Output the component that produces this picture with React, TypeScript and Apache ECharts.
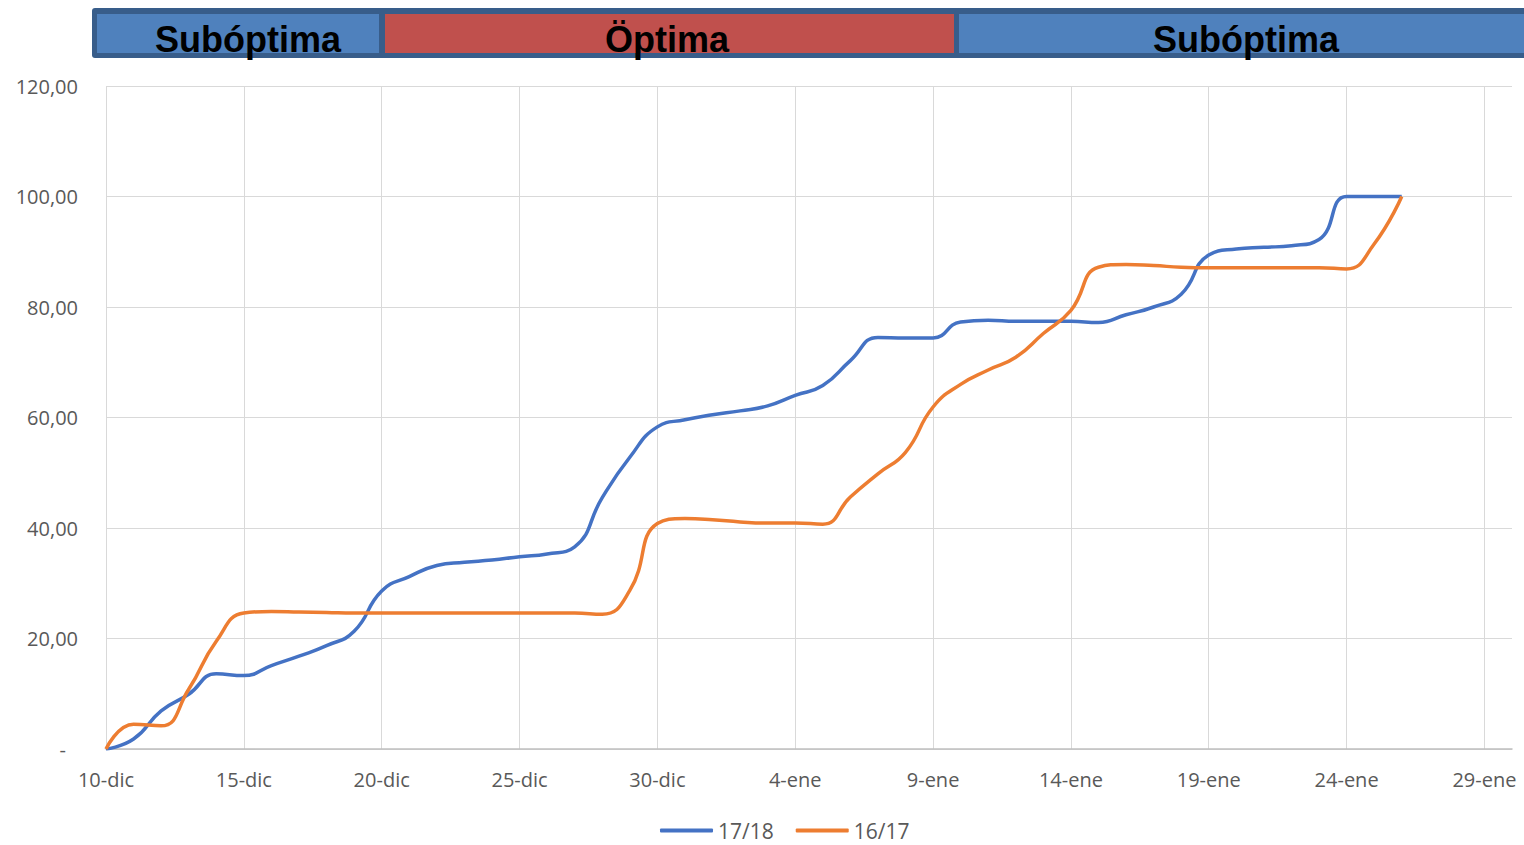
import React, { useEffect, useRef } from "react";
import * as echarts from "echarts";

const xTickLabels = ["10-dic", "15-dic", "20-dic", "25-dic", "30-dic", "4-ene", "9-ene", "14-ene", "19-ene", "24-ene", "29-ene"];

// daily values, day 0 = 10-dic
const serie1718 = [
  0, 1.8, 6.9, 9.9, 13.6, 13.3, 15.1, 16.8, 18.7, 21.3,
  28.6, 31.2, 33.2, 33.8, 34.2, 34.8, 35.3, 36.6, 45.5, 52.8,
  58.3, 59.6, 60.5, 61.2, 62.1, 64.0, 65.8, 70.3, 74.5, 74.4,
  74.4, 77.3, 77.6, 77.4, 77.4, 77.4, 77.2, 78.6, 80.0, 82.3,
  89.4, 90.5, 90.8, 91.1, 92.2, 100, 100, 100,
];

const serie1617 = [
  0, 4.5, 4.2, 10.8, 19.5, 24.6, 24.9, 24.8, 24.7, 24.6,
  24.6, 24.6, 24.6, 24.6, 24.6, 24.6, 24.6, 24.6, 24.4, 28.7,
  40.8, 41.7, 41.5, 41.1, 40.9, 40.9, 40.7, 45.6, 49.8, 53.7,
  61.9, 66.0, 68.6, 70.9, 75.2, 79.4, 87.2, 87.7, 87.5, 87.2,
  87.1, 87.1, 87.1, 87.1, 87.1, 86.9, 91.4, 100,
];

const seriesNames = ["17/18", "16/17"];
const bannerLabels = ["Subóptima", "Öptima", "Subóptima"];

export default function App() {
  const ref = useRef<HTMLDivElement>(null);

  useEffect(() => {
    if (!ref.current) return;
    const chart = echarts.init(ref.current, undefined, { renderer: "svg" });
    const font = "'Open Sans', 'Noto Sans', sans-serif";
    const toPairs = (arr: number[]) => arr.map((v, i) => [i, v]);

    const bannerBoxes = [
      { x: 97, w: 282, fill: "#4F81BD" },
      { x: 385, w: 569, fill: "#C0504D" },
      { x: 959, w: 580, fill: "#4F81BD" },
    ];
    const bannerCenters = [248, 667, 1246];

    const graphic: any[] = [
      {
        type: "rect",
        shape: { x: 92, y: 8, width: 1450, height: 50, r: 3 },
        style: { fill: "#385D8A" },
        z: 10,
      },
      ...bannerBoxes.map((b) => ({
        type: "rect",
        shape: { x: b.x, y: 14, width: b.w, height: 39 },
        style: { fill: b.fill },
        z: 11,
      })),
      ...bannerLabels.map((t, i) => ({
        type: "text",
        x: bannerCenters[i],
        y: 39,
        style: {
          text: t,
          fill: "#000000",
          font: "bold 36px 'Liberation Sans', Arial, sans-serif",
          align: "center",
          verticalAlign: "middle",
        },
        z: 12,
      })),
    ];

    chart.setOption({
      animation: false,
      backgroundColor: "#ffffff",
      grid: { left: 106, right: 12, top: 86, bottom: 96, containLabel: false },
      legend: {
        data: seriesNames.map((n) => ({ name: n, icon: "roundRect" })),
        left: 660,
        top: 820,
        padding: 0,
        itemWidth: 53,
        itemHeight: 4,
        itemGap: 22,
        textStyle: { fontSize: 21, color: "#595959", fontFamily: font, lineHeight: 21 },
      },
      xAxis: {
        type: "value",
        min: 0,
        max: 51,
        interval: 5,
        axisLine: { show: true, lineStyle: { color: "#bfbfbf", width: 1.5 } },
        axisTick: { show: false },
        splitLine: { show: true, showMaxLine: false, lineStyle: { color: "#d9d9d9", width: 1 } },
        axisLabel: {
          color: "#595959",
          fontSize: 20,
          fontFamily: font,
          margin: 20,
          showMaxLabel: false,
          formatter: (v: number) => (v % 5 === 0 && xTickLabels[v / 5]) || "",
        },
      },
      yAxis: {
        type: "value",
        min: 0,
        max: 120,
        interval: 20,
        axisLine: { show: false },
        axisTick: { show: false },
        splitLine: { show: true, lineStyle: { color: "#d9d9d9", width: 1 } },
        axisLabel: {
          color: "#595959",
          fontSize: 20,
          fontFamily: font,
          margin: 28,
          formatter: (v: number) => (v === 0 ? "{d|-}" : v.toFixed(2).replace(".", ",")),
          rich: {
            d: { color: "#595959", fontSize: 20, fontFamily: font, padding: [0, 12, 0, 0] },
          },
        },
      },
      series: [
        {
          name: seriesNames[0],
          type: "line",
          data: toPairs(serie1718),
          smooth: 0.5,
          symbol: "none",
          lineStyle: { color: "#4472C4", width: 3.5 },
          itemStyle: { color: "#4472C4" },
          z: 3,
        },
        {
          name: seriesNames[1],
          type: "line",
          data: toPairs(serie1617),
          smooth: 0.5,
          symbol: "none",
          lineStyle: { color: "#ED7D31", width: 3.5 },
          itemStyle: { color: "#ED7D31" },
          z: 4,
        },
      ],
      graphic,
    });

    return () => chart.dispose();
  }, []);

  return (
    <div
      ref={ref}
      style={{ position: "fixed", left: 0, top: 0, width: 1524, height: 845 }}
    />
  );
}
